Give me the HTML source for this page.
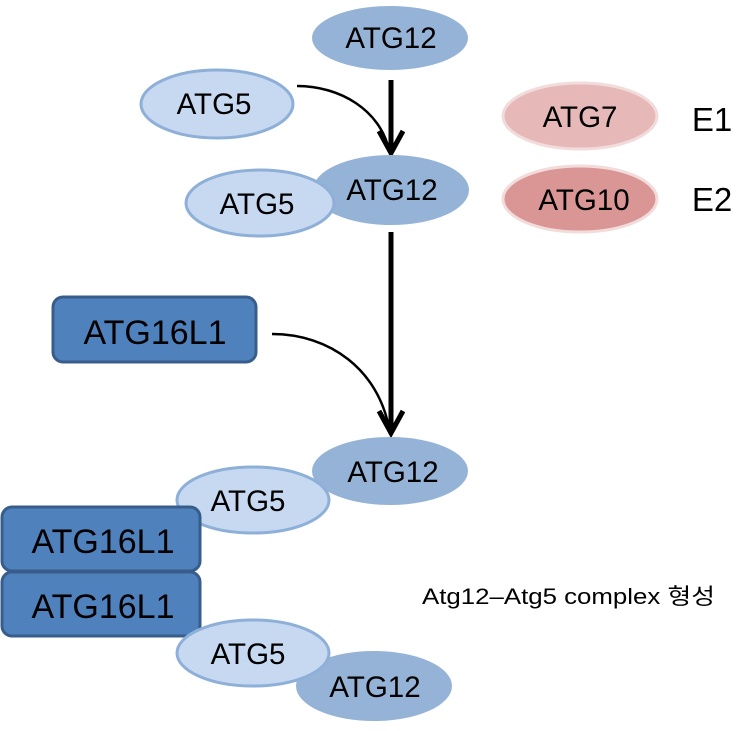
<!DOCTYPE html>
<html><head><meta charset="utf-8"><style>
body{margin:0;background:#fff;width:754px;height:726px;overflow:hidden}
text{font-family:"Liberation Sans","Noto Sans CJK KR",sans-serif;fill:#000}
</style></head><body>
<svg width="754" height="726" viewBox="0 0 754 726" xmlns="http://www.w3.org/2000/svg">
<g font-size="29.5" text-anchor="middle">
<g stroke="#000" fill="none" stroke-linecap="butt">
<line x1="391" y1="80" x2="391" y2="152" stroke-width="5"/>
<polyline points="379,131 391,153 403,131" stroke-width="5"/>
<path d="M297,86 C340,86 380,110 389,150" stroke-width="2.5"/>
<line x1="391" y1="232" x2="391" y2="432" stroke-width="5"/>
<polyline points="379,411 391,433 403,411" stroke-width="5"/>
<path d="M272,334 C330,334 378,370 389,428" stroke-width="2.5"/>
</g>
<ellipse cx="390" cy="38" rx="78" ry="32" fill="#95b3d7"/>
<text x="391" y="48">ATG12</text>
<ellipse cx="217" cy="104" rx="76" ry="34" fill="#c6d9f1" stroke="#8eb0d8" stroke-width="3"/>
<text x="214" y="114">ATG5</text>
<ellipse cx="391" cy="190" rx="78" ry="35" fill="#95b3d7"/>
<text x="392" y="200">ATG12</text>
<ellipse cx="260" cy="203" rx="74" ry="33" fill="#c6d9f1" stroke="#8eb0d8" stroke-width="3"/>
<text x="257" y="214">ATG5</text>
<ellipse cx="580" cy="116" rx="77" ry="33" fill="#e6b9b8" stroke="#f2dcdb" stroke-width="3"/>
<text x="580" y="127">ATG7</text>
<ellipse cx="580" cy="199" rx="77" ry="33" fill="#d99694" stroke="#f2dcdb" stroke-width="3"/>
<text x="584" y="210">ATG10</text>
<text x="712" y="131" font-size="33">E1</text>
<text x="712" y="211" font-size="33">E2</text>
<rect x="53" y="297" width="203" height="65" rx="10" fill="#4f81bd" stroke="#385d8a" stroke-width="3"/>
<text x="155" y="344" font-size="34">ATG16L1</text>
<ellipse cx="390" cy="471" rx="78" ry="34" fill="#95b3d7"/>
<text x="393" y="482">ATG12</text>
<ellipse cx="253" cy="500" rx="76" ry="33" fill="#c6d9f1" stroke="#8eb0d8" stroke-width="3"/>
<text x="248" y="511">ATG5</text>
<rect x="2" y="507" width="198" height="64" rx="10" fill="#4f81bd" stroke="#385d8a" stroke-width="3"/>
<text x="103" y="553" font-size="34">ATG16L1</text>
<rect x="2" y="572" width="198" height="64" rx="10" fill="#4f81bd" stroke="#385d8a" stroke-width="3"/>
<text x="103" y="618" font-size="34">ATG16L1</text>
<ellipse cx="374" cy="686" rx="78" ry="35" fill="#95b3d7"/>
<text x="375" y="697">ATG12</text>
<ellipse cx="253" cy="653" rx="76" ry="33" fill="#c6d9f1" stroke="#8eb0d8" stroke-width="3"/>
<text x="248" y="664">ATG5</text>
</g>
<text x="422" y="604" font-size="22" textLength="293" lengthAdjust="spacingAndGlyphs">Atg12–Atg5 complex 형성</text>
</svg>
</body></html>
